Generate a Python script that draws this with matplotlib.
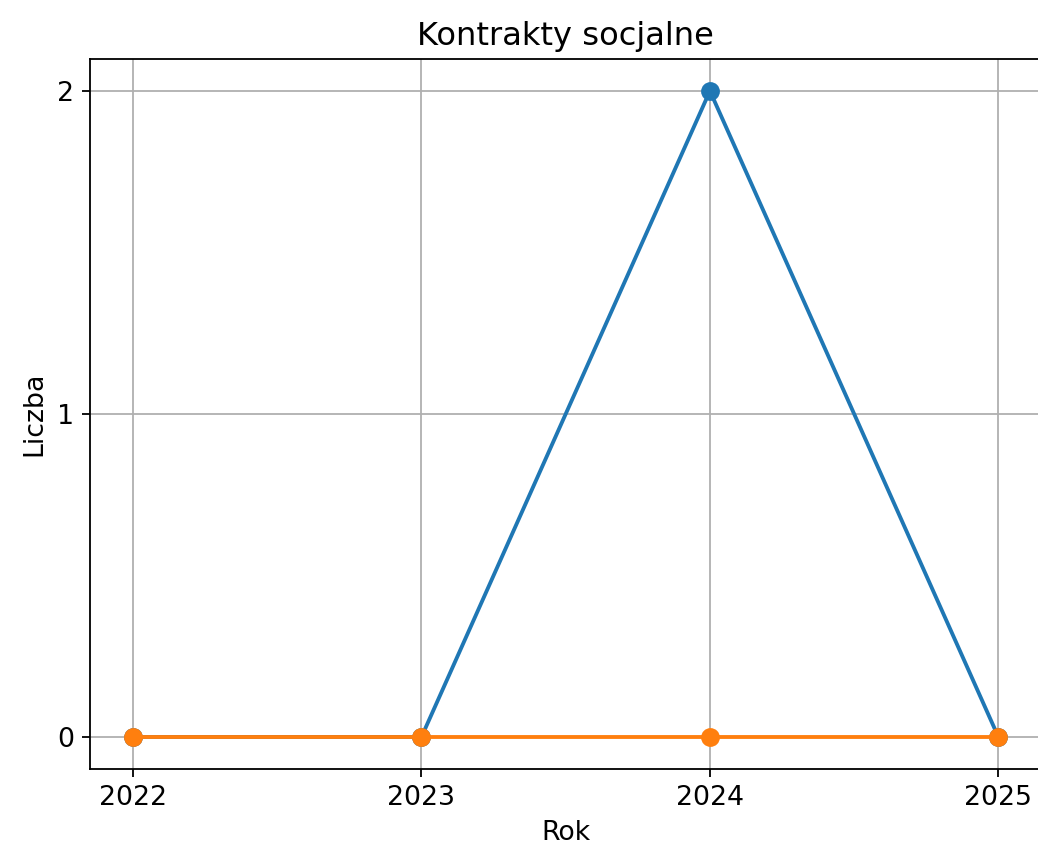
import matplotlib
matplotlib.use("Agg")
import matplotlib.pyplot as plt

# data
years = [2022, 2023, 2024, 2025]
series_a = [0, 0, 2, 0]
series_b = [0, 0, 0, 0]

plt.rcParams["font.size"] = 11.8
plt.rcParams["axes.titlesize"] = 14.2
plt.rcParams["lines.markersize"] = 7.3
plt.rcParams["lines.linewidth"] = 1.7

fig = plt.figure(figsize=(1038 / 163, 850 / 163), dpi=163)
ax = fig.add_axes([0.0865, 0.095, 0.917, 0.836])

ax.plot(years, series_a, marker="o")
ax.plot(years, series_b, marker="o")

ax.set_title("Kontrakty socjalne")
ax.set_xlabel("Rok")
ax.set_ylabel("Liczba")
ax.set_xticks(years)
ax.set_yticks([0, 1, 2])
ax.grid(True)

fig.savefig("out.png", dpi=163)
